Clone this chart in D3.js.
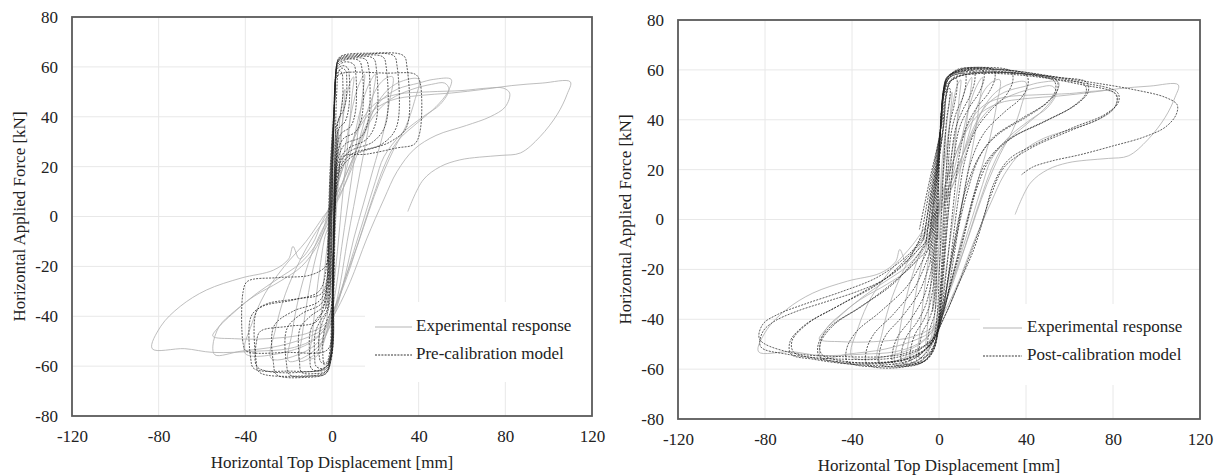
<!DOCTYPE html>
<html>
<head>
<meta charset="utf-8">
<script src="https://cdn.jsdelivr.net/npm/d3@7"></script>
<style>
  html, body { margin: 0; padding: 0; background: #fff; }
  svg { display: block; }
</style>
</head>
<body>
<svg id="chart" width="1222" height="475"></svg>
<script>
// Axis ticks
const xTicks = [-120, -80, -40, 0, 40, 80, 120];
const yTicks = [-80, -60, -40, -20, 0, 20, 40, 60, 80];

// Experimental cyclic response: one [displacement mm, force kN] path per cycle
const expLoops = [
  [[-0.5,-8],[0.5,10],[1.5,24],[2.5,32],[3,35],[2.6,28],[1.8,16],[1,4],[0,-10],[-1,-22],[-2,-32],[-3,-37],[-2.6,-30],[-1.8,-18],[-1,-6],[-0.5,-8]],
  [[-1,-5],[1,12],[2.5,28],[4,42],[5.5,50],[6,51],[5.2,42],[4,28],[2.8,12],[1.5,-4],[0,-20],[-1.5,-34],[-3,-45],[-5,-51],[-6,-52],[-5.2,-42],[-4,-28],[-2.5,-14],[-1,-5]],
  [[-1.5,-4],[0.5,8],[2.5,22],[4.5,36],[6.5,47],[8.5,54],[10,56],[9.2,48],[7.8,34],[6,18],[4.2,2],[2.5,-14],[0.5,-30],[-1.5,-42],[-4,-51],[-7,-56],[-10,-57],[-9,-47],[-7.5,-34],[-5.5,-20],[-3.2,-8],[-1.5,-4]],
  [[-2,-3],[1,6],[4,18],[7,32],[9.5,44],[12,52],[15,57],[14,48],[12,34],[9.5,18],[7,3],[4.5,-12],[2,-28],[-0.5,-40],[-4,-50],[-9,-56],[-15,-58],[-13.8,-48],[-11.5,-34],[-8.5,-20],[-5,-9],[-2,-3]],
  [[-2.5,-2],[2,6],[6,17],[10,31],[13.5,44],[17,53],[20,57],[18.8,48],[16.5,34],[13,18],[10,4],[7,-10],[4,-26],[1,-38],[-3,-48],[-10,-55],[-20,-58],[-18.5,-47],[-15.5,-33],[-11,-19],[-6,-8],[-2.5,-2]],
  [[-3,-1],[3,7],[8,18],[13,32],[17,44],[21,52],[25,55.5],[28,56],[26.5,46],[23.5,33],[19,19],[14.5,5],[10,-9],[6,-24],[2,-37],[-3,-47],[-12,-54],[-28,-57],[-26,-45],[-21.5,-31],[-15,-18],[-8,-7],[-3,-1]],
  [[-4,0],[3,8],[9,19],[15,33],[20,44],[26,51],[33,54.5],[40,55],[38,46],[34,36],[28,26],[22,14],[17,2],[12,-11],[6,-25],[1,-37],[-5,-47],[-16,-53],[-40,-55],[-37,-43],[-31,-31],[-22,-20],[-12,-10],[-4,0]],
  [[-2,2],[4,12],[10,24],[16,37],[22,46],[30,51],[40,53.5],[47,55],[55,55],[53.5,50],[48,44],[40,38],[30,30],[24,20],[19,8],[13,-8],[7,-24],[2,-35],[-3,-43],[-12,-47],[-30,-49],[-45,-49],[-55,-48],[-53,-45],[-44,-37.5],[-35,-31],[-25,-25],[-15,-19],[-8,-12],[-4,-5],[-2,2]],
  [[-1.5,3],[5,14],[12,28],[19,40],[27,47],[37,51],[46,53],[52,53.5],[54,51],[50,45],[42,40],[32,33],[24,24],[20,14],[15,0],[10,-14],[5,-28],[1,-38],[-4,-45],[-10,-48],[-25,-52],[-42,-54],[-54,-55.5],[-55,-52],[-52,-44],[-45,-38],[-36,-32],[-24,-26],[-14,-20],[-7,-12],[-3,-4],[-1.5,3]],
  [[-1,4],[3,14],[8,27],[14,39],[21,46],[30,49],[45,50],[60,50.5],[72,51.5],[79,51.5],[82,49.5],[80,44],[73,40],[62,36.5],[48,32.5],[38,27],[30,18],[24,7],[16,-9],[8.5,-26],[2.5,-37],[-3,-45],[-10,-50],[-20,-53],[-35,-54],[-55,-54.5],[-68,-53],[-83,-53],[-79,-44],[-70,-36],[-58,-29.5],[-42,-24.7],[-27,-21.5],[-20,-17],[-18,-12],[-15,-17],[-9,-11],[-5,-3],[-1,4]],
  [[-1,4],[4,17],[10,31],[17,41],[27,46.5],[40,48.5],[55,49.5],[70,51],[83,52.5],[97,53.5],[110,54],[108.5,49],[104,41],[96,32],[87,25.5],[78,24.5],[68,23.8],[59,22.7],[50,20],[42,14.6],[35,2]]
];

// Pre-calibration numerical model
const preLoops = [
  [[-0.5,-30],[0,0],[0.6,30],[1.2,50],[2,57],[3.5,58.5],[4.6,57.5],[5,54],[4.8,46],[3.6,40],[2,36],[1.2,20],[0.5,-10],[-0.2,-40],[-1,-54],[-2.5,-58.5],[-5,-58.5],[-6,-55],[-5.8,-47],[-4.2,-42],[-2,-38],[-1,-34],[-0.5,-30]],
  [[-0.8,-28],[-0.1,0],[0.7,32],[1.3,52],[2.3,59],[5,60.5],[7.3,59.5],[8,56],[7.8,44],[6,38],[3,35],[1.6,22],[0.7,-8],[0,-40],[-0.8,-55],[-2.5,-60],[-5,-61],[-7.4,-60],[-8,-56],[-7.8,-47],[-5.5,-42],[-2.5,-38],[-1.3,-33],[-0.8,-28]],
  [[-1,-25],[-0.2,5],[0.8,35],[1.5,54],[2.5,60],[6,62],[10,61],[11,57],[10.8,42],[8.5,36],[4,33],[2,24],[0.9,-5],[0.1,-38],[-0.7,-56],[-2.5,-61],[-6,-62],[-9.5,-61],[-10.2,-57],[-10,-46],[-7,-41],[-3,-37],[-1.5,-31],[-1,-25]],
  [[-1.2,-22],[-0.3,8],[0.9,38],[1.6,55],[2.6,61],[7,63],[12.5,62.5],[14,58],[13.8,40],[11,34],[5,31],[2.2,23],[1,-2],[0.2,-36],[-0.6,-56],[-2.7,-62],[-8,-63],[-14,-62.5],[-15,-58],[-14.8,-45],[-10,-40],[-4,-36],[-1.8,-29],[-1.2,-22]],
  [[-1.4,-20],[-0.4,10],[1,40],[1.7,56],[2.8,62],[9,63.5],[15.5,63],[17,59],[16.8,39],[13.5,32],[6,29],[2.5,22],[1.1,0],[0.2,-35],[-0.5,-57],[-2.8,-63],[-10,-64],[-19.5,-63.5],[-21,-59],[-20.8,-45],[-14,-39],[-5,-35],[-2,-28],[-1.4,-20]],
  [[-1.5,-18],[-0.5,12],[1,42],[1.8,57],[3,62.5],[10,64],[19,63.5],[20.5,59],[20.3,38],[16,31],[7,27],[2.7,21],[1.2,2],[0.3,-33],[-0.4,-57],[-3,-63],[-12,-64.5],[-25.5,-63.5],[-27,-59],[-26.8,-44],[-18,-38],[-6,-34],[-2.2,-27],[-1.5,-18]],
  [[-1.6,-16],[-0.5,14],[1.1,44],[1.9,58],[3.2,63],[12,64.5],[23.5,64],[25,60],[24.8,37],[19,30],[8,26],[3,20],[1.3,3],[0.4,-32],[-0.3,-57],[-3.2,-62.5],[-15,-64],[-33.5,-62.5],[-35,-58],[-34.8,-38],[-30,-35],[-16,-33],[-5,-31],[-2.3,-25],[-1.6,-16]],
  [[-1.7,-14],[-0.6,16],[1.2,46],[2,59],[3.4,63.5],[14,65],[28.5,64.5],[30,60.5],[29.8,36],[23,29],[9,25],[3.2,19],[1.4,4],[0.5,-30],[-0.2,-50],[-3,-54],[-20,-54.5],[-39.5,-54],[-41,-51],[-41,-30],[-39,-26],[-25,-24.5],[-10,-23.5],[-3,-20],[-1.7,-14]],
  [[-1.8,-12],[-0.7,18],[1.3,48],[2.1,60],[3.6,64],[18,65.5],[33,64.5],[34.6,60],[34.5,36],[27,30],[10,24.5],[3.4,18],[1.5,5],[0.6,-28],[-0.1,-55],[-3.5,-61],[-20,-62],[-36,-61],[-37.5,-57],[-37.3,-40],[-32,-36],[-18,-33.5],[-6,-30],[-2.5,-20],[-1.8,-12]],
  [[-1.9,-10],[-0.8,20],[1.4,48],[2.2,56],[5,57.5],[25,57.5],[38.5,57],[40.6,54],[40.6,34],[38,29],[30,27.5],[16,25],[5,24],[3,16],[1.6,6],[0.7,-26],[0,-54],[-3,-60.5],[-15,-62.5],[-30,-62],[-34.8,-60],[-34.8,-50],[-33,-46],[-20,-44],[-7,-42],[-2.7,-30],[-1.9,-10]],
  [[0.2,-30],[0.8,0],[1.5,30],[2.2,50],[3,58],[4.5,59.5],[6.3,58.5],[6.8,55],[6.5,47],[5,42],[3,39],[2.2,25],[1.5,0],[0.7,-35],[0,-52],[-1.5,-58],[-3.5,-59.5],[-4.2,-56],[-4,-48],[-2.5,-42],[-0.5,-38],[0.2,-30]]
];

// Post-calibration numerical model
const postLoops = [
  [[-1.5,-35],[-0.8,-10],[0,20],[0.8,40],[2,49],[3.5,52],[5,52.5],[4.8,48],[3.5,40],[2.3,25],[1.3,5],[0.2,-20],[-0.8,-38],[-2.2,-47],[-3.5,-50],[-5,-51],[-4.8,-46],[-3.5,-42],[-2.3,-39],[-1.5,-35]],
  [[-2,-30],[-1,-5],[0.2,25],[1.1,43],[2.5,51],[4.5,55],[8,56.5],[8.3,53],[7,46],[5,38],[3.5,22],[2.2,0],[0.8,-25],[-0.5,-42],[-2,-50],[-4.5,-54],[-9,-55.5],[-9,-51],[-7.5,-45],[-5,-41],[-3,-36],[-2,-30]],
  [[-2.5,-26],[-1.3,0],[0.3,28],[1.3,45],[2.7,53],[5,57],[9,58.5],[12,58.5],[12.4,55],[11,49],[8,43],[5.5,34],[4,18],[2.6,-2],[1,-27],[-0.4,-44],[-2.2,-52],[-5.5,-56],[-10,-57.5],[-13,-57],[-13,-52],[-11,-46],[-7.5,-41],[-4.5,-35],[-2.5,-26]],
  [[-3,-23],[-1.5,3],[0.3,30],[1.5,47],[3,54],[6,58],[11,59.5],[16,59.5],[16.5,56],[14.5,50],[11,44],[7.5,36],[5.2,20],[3.4,0],[1.5,-25],[-0.2,-43],[-2.4,-52],[-6,-56.5],[-12,-58],[-17,-57.5],[-17.2,-53],[-15,-47],[-10,-41],[-6,-34],[-3,-23]],
  [[-3.5,-20],[-1.8,6],[0.4,32],[1.6,48],[3.2,55],[7,59],[13,60.5],[20,60],[20.8,57],[18.5,51],[14,45],[9.5,37],[6.5,22],[4.2,2],[2,-23],[0,-42],[-2.6,-52],[-7,-57],[-14,-58.5],[-21,-58],[-21.3,-53],[-19,-47],[-13,-40],[-7,-31],[-3.5,-20]],
  [[-4,-17],[-2,8],[0.5,34],[1.7,49],[3.4,56],[8,60],[16,61],[25,60],[25.8,57],[23,51],[17.5,45],[12.5,37],[9,24],[6.5,5],[3.5,-20],[0.5,-40],[-2.8,-52],[-8,-57.5],[-17,-59],[-27,-58],[-27.3,-53],[-24.5,-46.5],[-17,-39],[-9,-29],[-4,-17]],
  [[-4.5,-14],[-2.2,10],[0.6,35],[1.8,50],[3.6,56.5],[9,60],[20,61],[33,59.5],[34,56],[31,50],[24,44],[17,36],[12,24],[8.5,6],[5,-18],[1.5,-38],[-3,-51.5],[-9,-57],[-20,-59.5],[-33,-58],[-33.5,-53],[-30,-46],[-21,-38],[-11,-27],[-4.5,-14]],
  [[-5,-12],[-2.5,11],[0.7,36],[1.9,51],[3.8,57],[10,60],[24,60.5],[40,58],[41,54.5],[38,49],[30,43],[21,35],[15,24],[11,8],[7,-14],[3,-34],[-3.2,-50],[-10,-56.5],[-25,-59],[-42,-57],[-42.5,-52],[-38,-45],[-27,-37],[-14,-26],[-5,-12]],
  [[-6,-10],[-3,12],[0.8,37],[2,52],[4,57.5],[12,60],[30,60],[46,58],[54,56],[54.5,52],[50,47],[40,41],[27,34],[19,26],[13,14],[9.5,2],[6,-14],[2.5,-31],[-3.5,-49],[-12,-56],[-30,-58.5],[-48,-57],[-55,-55],[-55.5,-50],[-50,-43],[-37,-35.5],[-20,-25],[-6,-10]],
  [[-5,-12],[-2,10],[1.5,34],[3,49],[5.5,55.5],[14,58.5],[30,59],[46,57.5],[53,55.5],[53.5,51.5],[49,46.5],[38,40.5],[25,33],[18,24],[13,11],[9,-3],[5,-20],[1.5,-37],[-3,-49],[-11,-55],[-28,-57.5],[-46,-56.5],[-54,-54],[-54.5,-49.5],[-48,-42],[-35,-34.5],[-18,-23],[-5,-12]],
  [[-7,-8],[-3.5,13],[1,38],[2.2,52],[4.3,57.5],[14,60],[35,59.5],[55,57],[68,55],[68.5,51],[63,46],[50,40],[34,33],[24,25],[18,14],[14,2],[10,-12],[5,-27],[1.5,-39],[-3.8,-50],[-15,-56],[-38,-58],[-58,-56],[-68,-54],[-68.5,-49],[-62,-42.5],[-47,-35],[-25,-24],[-7,-8]],
  [[-6,-9],[-2.5,12],[2,36],[3.5,50],[6,56],[16,58.5],[36,58.5],[56,56],[67,54],[67.5,50.5],[61,45],[48,39],[31,31.5],[21,22],[16,10],[12,-4],[7,-20],[2.5,-35],[-3.5,-49.5],[-14,-55.5],[-36,-57.5],[-58,-55.5],[-67,-53],[-67.5,-48.5],[-60,-41.5],[-44,-33.5],[-22,-22],[-6,-9]],
  [[-8,-6],[-4,14],[1,38],[2.4,52],[4.6,57.5],[15,59.5],[40,58.5],[65,55],[82,51],[82.5,47],[76,42],[62,37],[44,30],[32,24],[25,14],[21,2],[16,-12],[9,-26],[3,-38],[-4,-49],[-18,-55],[-45,-56],[-70,-54],[-82,-51],[-81,-45],[-76,-41],[-66,-37],[-52,-33],[-38,-29],[-25,-24],[-14,-16],[-8,-6]],
  [[-7,-7],[-3,13],[2,37],[3.5,51],[6,56.5],[18,58.5],[42,57.5],[66,54],[81,50.5],[81.5,46],[75,41],[60,35.5],[42,28.5],[30,21],[24,10],[19,-3],[13,-17],[7,-30],[2,-40],[-3.5,-48.5],[-17,-54],[-44,-55],[-70,-53],[-82.5,-48],[-81,-42],[-74,-38],[-62,-34],[-45,-29],[-28,-23],[-14,-14],[-7,-7]],
  [[-9,-4],[-4.5,15],[1.2,38],[2.6,52],[5,57],[16,59],[45,58],[70,55],[90,52],[104,49],[109.5,46],[109,42],[104,37],[94,33],[80,29.5],[65,26],[52,23.5],[43,21],[38,18]]
];

const legendLabels = ["Experimental response", "Pre-calibration model", "Post-calibration model"];

const FONT = "'Liberation Serif', 'DejaVu Serif', serif";
const svg = d3.select("#chart").style("font-family", FONT);

function drawPanel(box, modelLoops, modelLabel, legendPos, id) {
  const x = d3.scaleLinear().domain([-120, 120]).range([box.x0, box.x1]);
  const y = d3.scaleLinear().domain([-80, 80]).range([box.y1, box.y0]);
  const g = svg.append("g");

  g.append("clipPath").attr("id", "clip" + id)
    .append("rect").attr("x", box.x0).attr("y", box.y0)
    .attr("width", box.x1 - box.x0).attr("height", box.y1 - box.y0);

  // grid
  const grid = g.append("g").attr("stroke", "#e8e8e8").attr("stroke-width", 1);
  grid.selectAll("line.v").data(xTicks.slice(1, -1)).join("line")
    .attr("x1", d => x(d)).attr("x2", d => x(d))
    .attr("y1", box.y0).attr("y2", box.y1);
  grid.selectAll("line.h").data(yTicks.slice(1, -1)).join("line")
    .attr("y1", d => y(d)).attr("y2", d => y(d))
    .attr("x1", box.x0).attr("x2", box.x1);

  // legend backing keeps grid from running through the key
  g.append("rect")
    .attr("x", legendPos.bx0).attr("y", legendPos.by0)
    .attr("width", box.x1 - 1 - legendPos.bx0).attr("height", legendPos.by1 - legendPos.by0)
    .attr("fill", "#fff");

  const line = d3.line().x(d => x(d[0])).y(d => y(d[1]))
    .curve(d3.curveCatmullRom.alpha(0.5));

  const plot = g.append("g").attr("clip-path", `url(#clip${id})`);
  plot.selectAll("path.exp").data(expLoops).join("path")
    .attr("d", line).attr("fill", "none")
    .attr("stroke", "#adadad").attr("stroke-width", 0.8);
  plot.selectAll("path.mod").data(modelLoops).join("path")
    .attr("d", line).attr("fill", "none")
    .attr("stroke", "#1e1e1e").attr("stroke-width", 0.9)
    .attr("stroke-dasharray", "2,1.2").attr("stroke-opacity", 0.8);

  // frame
  g.append("rect").attr("x", box.x0).attr("y", box.y0)
    .attr("width", box.x1 - box.x0).attr("height", box.y1 - box.y0)
    .attr("fill", "none").attr("stroke", "#5a5a5a").attr("stroke-width", 1.8);

  // tick labels
  const fmt = d => String(d);
  const xAxis = d3.axisBottom(x).tickValues(xTicks).tickFormat(fmt).tickSize(0).tickPadding(14);
  const xa = g.append("g").attr("transform", `translate(0,${box.y1})`).call(xAxis);
  xa.select(".domain").remove();
  xa.attr("font-family", null).attr("font-size", null);
  xa.selectAll("text").style("font-family", FONT).style("font-size", "17px").attr("fill", "#222");

  const yAxis = d3.axisLeft(y).tickValues(yTicks).tickFormat(fmt).tickSize(0).tickPadding(14);
  const ya = g.append("g").attr("transform", `translate(${box.x0},0)`).call(yAxis);
  ya.select(".domain").remove();
  ya.attr("font-family", null).attr("font-size", null);
  ya.selectAll("text").style("font-family", FONT).style("font-size", "17px").attr("fill", "#222");

  const txt = sel => sel.style("font-family", FONT).style("font-size", "17px").attr("fill", "#222");

  // axis titles
  g.append("text").attr("x", (box.x0 + box.x1) / 2).attr("y", box.y1 + 52)
    .attr("text-anchor", "middle").call(txt)
    .text("Horizontal Top Displacement [mm]");
  g.append("text")
    .attr("transform", `translate(${box.x0 - 51},${(box.y0 + box.y1) / 2}) rotate(-90)`)
    .attr("text-anchor", "middle").attr("dominant-baseline", "middle").call(txt)
    .text("Horizontal Applied Force [kN]");

  // legend
  const lg = g.append("g");
  lg.append("line").attr("x1", legendPos.lx0).attr("x2", legendPos.lx1)
    .attr("y1", legendPos.y1).attr("y2", legendPos.y1)
    .attr("stroke", "#adadad").attr("stroke-width", 0.9);
  lg.append("line").attr("x1", legendPos.lx0).attr("x2", legendPos.lx1)
    .attr("y1", legendPos.y2).attr("y2", legendPos.y2)
    .attr("stroke", "#1e1e1e").attr("stroke-width", 0.9).attr("stroke-dasharray", "2,1.2");
  lg.append("text").attr("x", legendPos.tx).attr("y", legendPos.y1)
    .attr("dominant-baseline", "middle").call(txt).text(legendLabels[0]);
  lg.append("text").attr("x", legendPos.tx).attr("y", legendPos.y2)
    .attr("dominant-baseline", "middle").call(txt).text(modelLabel);
}

drawPanel({x0: 72, x1: 592, y0: 17, y1: 416}, preLoops, legendLabels[1],
  {bx0: 365, by0: 302, by1: 382, lx0: 375, lx1: 412, tx: 416, y1: 327, y2: 355}, "a");
drawPanel({x0: 678, x1: 1200, y0: 20, y1: 419}, postLoops, legendLabels[2],
  {bx0: 980, by0: 304, by1: 385, lx0: 983, lx1: 1022, tx: 1027, y1: 328, y2: 356}, "b");
</script>
</body>
</html>
